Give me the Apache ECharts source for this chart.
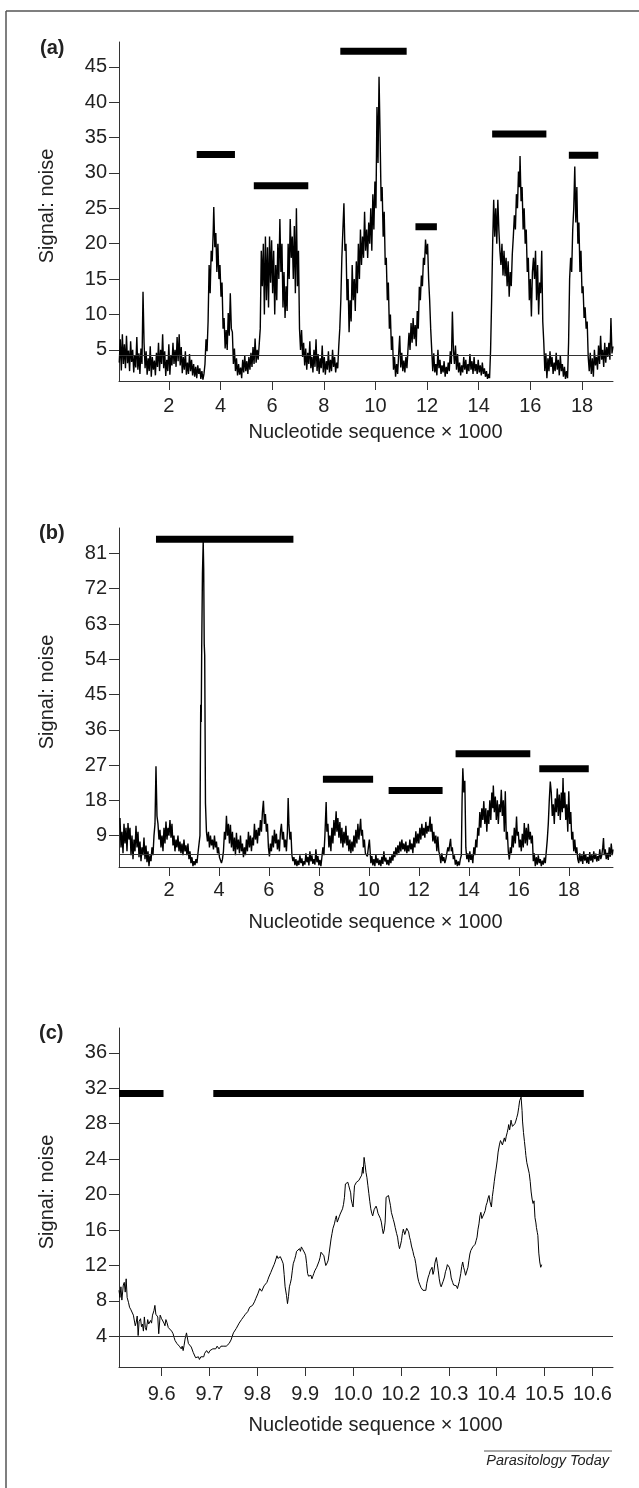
<!DOCTYPE html>
<html>
<head>
<meta charset="utf-8">
<script src="https://cdn.jsdelivr.net/npm/echarts@6.0.0/dist/echarts.min.js"></script>
<style>
  html, body { margin: 0; padding: 0; background: #fff; }
  #main { width: 639px; height: 1488px; }
</style>
</head>
<body>
<div id="main"></div>
<script>
// signal:noise traces, [position x 1000, signal:noise]
var traceA = [
  [0.08,3.2],[0.12,6.5],[0.16,2.1],[0.2,7.2],[0.24,3.0],[0.28,5.8],[0.32,2.4],[0.36,7.0],[0.4,3.1],[0.44,4.9],[0.48,2.0],[0.52,6.2],[0.56,3.3],[0.6,5.0],[0.64,1.8],[0.68,4.2],[0.72,2.5],[0.76,6.8],[0.8,2.2],[0.84,4.5],[0.88,1.6],[0.92,5.2],[0.96,3.0],[1.0,13.2],[1.04,6.0],[1.08,2.4],[1.12,4.8],[1.16,1.5],[1.2,3.8],[1.24,2.0],[1.28,5.5],[1.32,1.2],[1.36,4.0],[1.4,2.2],[1.44,3.5],[1.48,1.4],[1.52,4.6],[1.56,2.6],[1.6,6.0],[1.64,2.0],[1.68,5.0],[1.72,3.0],[1.76,7.2],[1.8,2.4],[1.84,4.8],[1.88,1.3],[1.92,3.6],[1.96,2.0],[2.0,5.8],[2.04,1.5],[2.08,4.2],[2.12,2.8],[2.16,6.0],[2.2,3.0],[2.24,5.0],[2.28,2.6],[2.32,6.8],[2.36,3.4],[2.4,7.2],[2.44,2.8],[2.48,5.4],[2.52,1.7],[2.56,4.0],[2.6,2.2],[2.64,4.8],[2.68,1.5],[2.72,3.2],[2.76,1.6],[2.8,4.4],[2.84,2.0],[2.88,3.6],[2.92,1.4],[2.96,3.0],[3.0,1.2],[3.04,2.6],[3.08,1.0],[3.12,2.8],[3.16,1.6],[3.2,2.4],[3.24,0.9],[3.28,2.0],[3.32,0.8],[3.36,1.6],
  [3.4,3.0],[3.44,6.5],[3.48,4.8],[3.52,9.0],[3.56,17.0],[3.6,13.0],[3.64,19.0],[3.68,17.5],[3.72,22.0],[3.74,25.2],[3.78,19.5],[3.82,21.5],[3.86,16.0],[3.9,20.0],[3.94,15.0],[3.98,17.0],[4.02,12.5],[4.06,14.5],[4.1,8.0],[4.14,9.5],[4.18,5.2],[4.22,7.8],[4.26,5.0],[4.3,10.2],[4.34,7.0],[4.38,13.0],[4.42,8.0],[4.46,7.5],[4.5,3.0],[4.54,5.2],[4.58,2.0],[4.62,3.8],[4.66,1.4],[4.7,3.0],[4.74,1.5],[4.78,2.5],[4.82,1.0],[4.86,3.6],[4.9,1.8],[4.94,4.2],[4.98,2.0],[5.02,3.4],[5.06,1.6],[5.1,4.0],[5.14,2.2],[5.18,4.6],[5.22,2.6],[5.26,5.4],[5.3,3.0],[5.34,6.6],[5.38,3.2],[5.42,5.0],[5.46,3.6],[5.5,5.8],
  [5.54,8.0],[5.58,19.0],[5.62,14.0],[5.66,20.0],[5.7,10.0],[5.74,21.0],[5.78,12.0],[5.82,19.5],[5.86,11.0],[5.9,21.0],[5.94,14.5],[5.98,20.5],[6.02,13.0],[6.06,19.0],[6.1,10.0],[6.14,17.0],[6.18,12.0],[6.22,20.0],[6.26,15.0],[6.3,23.5],[6.34,16.0],[6.38,20.0],[6.42,11.0],[6.46,16.0],[6.5,9.5],[6.54,14.0],[6.58,10.5],[6.62,20.0],[6.66,15.0],[6.7,23.5],[6.74,18.0],[6.78,21.0],[6.82,15.0],[6.86,22.5],[6.9,13.0],[6.94,25.0],[6.98,14.0],[7.02,19.0],[7.06,8.0],[7.1,5.0],
  [7.14,7.8],[7.18,4.0],[7.22,6.0],[7.26,2.8],[7.3,5.2],[7.34,2.2],[7.38,4.6],[7.42,3.0],[7.46,6.2],[7.5,2.4],[7.54,4.0],[7.58,1.8],[7.62,5.0],[7.66,2.6],[7.7,6.5],[7.74,2.0],[7.78,4.4],[7.82,1.6],[7.86,3.8],[7.9,2.4],[7.94,5.6],[7.98,1.8],[8.02,4.0],[8.06,1.5],[8.1,3.4],[8.14,2.2],[8.18,4.8],[8.22,1.8],[8.26,3.6],[8.3,2.0],[8.34,5.0],[8.38,2.6],[8.42,4.0],[8.46,1.8],[8.5,3.2],[8.54,2.4],[8.58,5.5],
  [8.62,8.0],[8.66,12.0],[8.7,18.0],[8.74,22.0],[8.78,25.7],[8.82,19.0],[8.86,20.0],[8.9,12.0],[8.94,15.0],[8.98,7.5],[9.02,12.0],[9.06,9.0],[9.1,17.0],[9.14,12.0],[9.18,15.0],[9.22,10.5],[9.26,17.5],[9.3,13.0],[9.34,20.0],[9.38,15.0],[9.42,22.0],[9.46,17.0],[9.5,21.0],[9.54,18.0],[9.58,24.5],[9.62,19.0],[9.66,22.0],[9.7,18.0],[9.74,23.0],[9.78,20.0],[9.82,25.0],[9.86,19.0],[9.9,27.0],[9.94,22.0],[9.98,28.8],[10.02,25.0],[10.06,39.3],[10.1,31.4],[10.14,43.6],[10.18,35.4],[10.22,26.0],[10.26,28.0],[10.3,21.0],[10.34,24.5],[10.38,17.0],[10.42,18.0],[10.46,12.0],[10.5,14.5],[10.54,8.0],[10.58,10.0],[10.62,5.0],[10.66,6.9],[10.7,2.2],[10.74,4.0],[10.78,1.2],
  [10.82,3.0],[10.86,1.6],[10.9,4.4],[10.94,7.0],[10.98,2.5],[11.02,4.6],[11.06,2.0],[11.1,3.5],[11.14,1.8],[11.18,4.0],[11.22,2.4],[11.26,5.0],
  [11.3,7.4],[11.34,5.0],[11.38,8.8],[11.42,6.0],[11.46,9.5],[11.5,6.5],[11.54,8.5],[11.58,5.5],[11.62,10.5],[11.66,8.0],[11.7,13.9],[11.74,12.0],[11.78,15.5],[11.82,14.0],[11.86,18.0],[11.9,17.0],[11.94,20.6],[11.98,18.5],[12.02,20.0],[12.06,15.0],[12.1,12.0],[12.14,8.0],[12.18,5.0],[12.22,2.0],
  [12.26,4.5],[12.3,1.8],[12.34,3.0],[12.38,1.4],[12.42,5.0],[12.46,2.4],[12.5,3.6],[12.54,1.6],[12.58,2.8],[12.62,1.8],[12.66,3.4],[12.7,1.2],[12.74,2.6],[12.78,1.6],[12.82,3.2],[12.86,2.0],[12.9,4.8],[12.94,3.0],[12.98,10.4],[13.02,5.0],[13.06,3.0],[13.1,5.6],[13.14,2.2],[13.18,4.4],[13.22,1.8],[13.26,3.2],[13.3,1.4],[13.34,2.8],[13.38,1.8],[13.42,4.0],[13.46,2.2],[13.5,3.6],[13.54,1.6],[13.58,3.0],[13.62,2.0],[13.66,4.4],[13.7,2.2],[13.74,3.4],[13.78,1.6],[13.82,4.0],[13.86,2.0],[13.9,3.0],[13.94,1.6],[13.98,3.6],[14.02,1.8],[14.06,2.8],[14.1,1.4],[14.14,3.2],[14.18,1.6],[14.22,2.4],[14.26,1.2],[14.3,2.0],[14.34,0.9],[14.38,1.6],[14.42,1.0],
  [14.46,5.0],[14.5,12.0],[14.54,20.0],[14.58,26.2],[14.62,21.0],[14.66,25.0],[14.7,20.0],[14.74,26.2],[14.78,22.0],[14.82,19.0],[14.86,17.0],[14.9,20.0],[14.94,15.5],[14.98,19.0],[15.02,15.4],[15.06,18.0],[15.1,14.0],[15.14,17.5],[15.18,12.5],[15.22,16.0],[15.26,14.0],[15.3,18.5],[15.34,21.0],[15.38,24.0],[15.42,22.0],[15.46,27.0],[15.5,25.0],[15.54,30.2],[15.58,28.0],[15.6,32.4],[15.64,26.0],[15.68,28.0],[15.72,22.0],[15.76,25.0],[15.8,20.0],[15.84,22.0],[15.88,16.0],[15.92,18.0],[15.96,12.0],[16.0,15.0],[16.04,9.7],[16.08,16.0],[16.12,18.0],[16.16,15.0],[16.2,19.0],[16.24,12.0],[16.28,17.0],[16.32,10.0],[16.36,14.5],[16.4,13.0],[16.44,19.0],[16.48,9.0],[16.52,6.0],[16.56,2.0],
  [16.6,4.5],[16.64,1.0],[16.68,3.8],[16.72,2.0],[16.76,4.8],[16.8,2.6],[16.84,4.0],[16.88,1.6],[16.92,3.2],[16.96,2.0],[17.0,4.6],[17.04,2.2],[17.08,3.6],[17.12,1.4],[17.16,4.2],[17.2,2.0],[17.24,3.0],[17.28,1.2],[17.32,2.6],[17.36,0.9],[17.4,2.0],[17.44,1.0],
  [17.48,6.0],[17.52,15.0],[17.56,18.0],[17.6,16.0],[17.64,22.0],[17.68,25.0],[17.72,30.9],[17.76,23.0],[17.8,28.0],[17.84,20.0],[17.88,23.0],[17.92,16.0],[17.96,19.0],[18.0,13.0],[18.04,14.0],[18.08,9.5],[18.12,11.0],[18.16,8.0],[18.2,9.0],[18.24,4.0],[18.28,2.0],
  [18.32,4.6],[18.36,1.6],[18.4,3.8],[18.44,1.2],[18.48,5.0],[18.52,2.8],[18.56,4.0],[18.6,2.2],[18.64,5.6],[18.68,3.0],[18.72,7.0],[18.76,3.6],[18.8,5.0],[18.84,2.6],[18.88,6.0],[18.92,3.2],[18.96,5.4],[19.0,4.0],[19.04,6.0],[19.08,3.6],[19.12,9.5],[19.16,4.5],[19.2,5.5]
];

var traceB = [
  [0.04,13.5],[0.08,6.0],[0.12,10.0],[0.16,4.5],[0.2,12.0],[0.24,7.0],[0.28,11.0],[0.32,5.0],[0.36,12.2],[0.4,8.0],[0.44,11.0],[0.48,4.0],[0.52,9.0],[0.56,3.0],[0.6,8.0],[0.64,5.0],[0.68,11.5],[0.72,6.0],[0.76,10.0],[0.8,3.5],[0.84,7.5],[0.88,2.5],[0.92,6.0],[0.96,4.0],[1.0,8.5],[1.04,3.0],[1.08,6.5],[1.12,2.2],[1.16,5.0],[1.2,1.2],[1.24,4.0],[1.28,2.5],[1.32,6.0],[1.36,4.0],[1.4,9.0],[1.44,12.0],[1.48,26.7],[1.52,14.0],[1.56,12.0],[1.6,8.0],[1.64,10.5],[1.68,6.0],[1.72,9.0],[1.76,5.0],[1.8,11.0],[1.84,7.0],[1.88,12.6],[1.92,8.0],[1.96,11.0],[2.0,9.0],[2.04,13.0],[2.08,8.5],[2.12,12.0],[2.16,6.5],[2.2,9.0],[2.24,5.0],[2.28,8.0],[2.32,6.0],[2.36,9.0],[2.4,5.0],[2.44,7.5],[2.48,4.5],[2.52,7.0],[2.56,4.0],[2.6,8.0],[2.64,5.0],[2.68,6.5],[2.72,4.0],[2.76,7.0],[2.8,3.0],[2.84,5.0],[2.88,2.0],[2.92,3.5],[2.96,1.2],[3.0,2.5],[3.04,1.5],[3.08,3.0],[3.12,2.0],[3.16,4.5],[3.2,5.0],[3.24,9.0],[3.27,42.4],[3.29,38.0],[3.31,57.0],[3.34,76.0],[3.37,84.0],[3.39,77.0],[3.41,58.0],[3.43,55.0],[3.46,17.3],[3.5,10.0],[3.54,7.5],[3.58,10.0],[3.62,6.0],[3.66,9.0],[3.7,6.5],[3.74,8.0],[3.78,5.5],[3.82,9.0],[3.86,6.0],[3.9,7.5],[3.94,4.5],[3.98,6.0],[4.02,3.5],[4.06,4.0],[4.1,2.0],[4.14,3.0],[4.18,5.0],[4.22,10.0],[4.26,8.0],[4.3,14.1],[4.34,9.0],[4.38,12.0],[4.42,7.0],[4.46,11.8],[4.5,6.0],[4.54,10.0],[4.58,5.0],[4.62,8.5],[4.66,4.0],[4.7,9.7],[4.74,5.5],[4.78,8.0],[4.82,4.5],[4.86,9.0],[4.9,5.0],[4.94,7.0],[4.98,3.5],[5.02,6.0],[5.06,4.0],[5.1,8.0],[5.14,5.0],[5.18,10.0],[5.22,6.0],[5.26,9.0],[5.3,5.0],[5.34,8.5],[5.38,6.5],[5.42,12.0],[5.46,8.0],[5.5,10.5],[5.54,7.0],[5.58,11.0],[5.62,9.0],[5.66,13.0],[5.7,10.0],[5.74,15.0],[5.78,17.9],[5.82,12.0],[5.86,14.5],[5.9,10.0],[5.94,12.0],[5.98,6.0],[6.02,3.7],[6.06,7.0],[6.1,5.0],[6.14,9.0],[6.18,6.0],[6.22,10.5],[6.26,7.0],[6.3,9.5],[6.34,5.5],[6.38,8.0],[6.42,5.0],[6.46,10.0],[6.5,12.0],[6.54,8.0],[6.58,10.0],[6.62,6.0],[6.66,8.0],[6.7,5.0],[6.74,10.0],[6.77,18.6],[6.8,12.0],[6.84,8.0],[6.88,10.0],[6.92,4.0],[6.96,2.5],
  [7.0,3.5],[7.04,1.5],[7.08,3.0],[7.12,1.2],[7.16,2.6],[7.2,1.5],[7.24,4.0],[7.28,2.0],[7.32,3.2],[7.36,1.2],[7.4,2.5],[7.44,1.6],[7.48,4.5],[7.52,2.2],[7.56,3.6],[7.6,1.4],[7.64,5.0],[7.68,2.4],[7.72,4.0],[7.76,1.8],[7.8,3.0],[7.84,1.6],[7.88,5.5],[7.92,2.2],[7.96,3.8],[8.0,1.4],[8.04,2.8],[8.08,1.2],[8.12,3.5],[8.16,6.0],[8.2,4.0],[8.24,9.0],[8.29,17.6],[8.32,10.0],[8.36,12.0],[8.4,6.0],[8.44,9.0],[8.48,5.0],[8.52,11.0],[8.56,7.0],[8.6,13.0],[8.64,9.0],[8.69,15.2],[8.72,10.0],[8.76,13.5],[8.8,8.5],[8.84,12.5],[8.88,7.0],[8.92,11.0],[8.96,6.0],[9.0,10.0],[9.04,7.0],[9.08,11.5],[9.12,6.5],[9.16,9.0],[9.2,5.0],[9.24,8.0],[9.28,4.5],[9.32,7.5],[9.36,5.0],[9.4,9.0],[9.44,6.0],[9.48,10.5],[9.52,7.0],[9.56,12.0],[9.6,8.0],[9.64,11.0],[9.67,13.3],[9.7,9.0],[9.74,10.5],[9.78,6.0],[9.82,8.0],[9.86,4.5],[9.9,5.0],[9.94,3.7],[9.98,6.0],[10.02,8.0],[10.06,4.0],[10.08,2.0],
  [10.12,3.8],[10.16,1.4],[10.2,3.0],[10.24,1.2],[10.28,4.2],[10.32,2.0],[10.36,3.2],[10.4,1.5],[10.44,2.8],[10.48,1.2],[10.52,3.6],[10.56,1.8],[10.6,5.0],[10.64,2.4],[10.68,3.4],[10.72,1.6],[10.76,2.8],[10.8,1.4],[10.84,3.6],[10.88,2.0],[10.92,4.0],[10.96,2.6],
  [11.0,5.0],[11.04,3.5],[11.08,6.0],[11.12,4.0],[11.16,6.5],[11.2,4.5],[11.24,7.5],[11.28,5.0],[11.32,8.0],[11.36,5.5],[11.4,7.0],[11.44,5.0],[11.48,7.5],[11.52,4.5],[11.56,6.5],[11.6,5.0],[11.64,8.0],[11.68,5.5],[11.72,7.0],[11.76,4.5],[11.8,8.5],[11.84,6.0],[11.88,10.1],[11.92,7.0],[11.96,9.5],[12.0,7.0],[12.04,11.0],[12.08,8.0],[12.12,12.0],[12.16,9.0],[12.2,11.0],[12.24,8.5],[12.28,12.5],[12.32,9.5],[12.36,11.5],[12.4,10.0],[12.45,13.9],[12.48,10.0],[12.52,12.0],[12.56,7.5],[12.6,10.0],[12.64,7.0],[12.68,9.0],[12.72,5.0],[12.76,8.8],[12.8,5.0],[12.84,4.0],[12.88,2.0],[12.92,4.5],[12.96,2.5],[13.0,3.5],[13.04,2.0],[13.08,3.0],[13.12,4.5],[13.16,6.0],[13.2,5.0],[13.24,7.0],[13.27,8.2],[13.3,5.0],[13.34,6.0],[13.38,3.0],[13.42,4.0],[13.46,1.6],[13.5,2.8],[13.54,1.2],[13.58,2.4],[13.62,1.4],[13.66,3.0],[13.7,4.0],[13.73,18.0],[13.76,26.2],[13.8,20.0],[13.84,23.0],[13.88,6.0],[13.92,3.0],[13.96,4.5],[14.0,2.2],[14.04,5.0],[14.08,2.8],[14.12,4.0],[14.16,2.0],[14.2,6.0],[14.24,4.0],[14.28,8.0],[14.32,6.0],[14.36,11.0],[14.4,9.0],[14.44,15.0],[14.48,11.0],[14.52,16.0],[14.56,13.0],[14.6,17.8],[14.64,12.0],[14.68,16.0],[14.72,10.0],[14.76,15.5],[14.8,12.0],[14.84,18.0],[14.88,13.0],[14.92,20.0],[14.96,16.0],[14.98,21.8],[15.02,15.0],[15.06,19.0],[15.1,13.0],[15.14,18.0],[15.18,12.0],[15.22,17.0],[15.26,15.0],[15.3,20.7],[15.34,14.0],[15.38,18.0],[15.42,10.0],[15.46,20.3],[15.5,8.0],[15.54,10.0],[15.58,5.0],[15.62,2.9],[15.66,6.0],[15.7,4.5],[15.74,9.0],[15.78,6.0],[15.82,11.0],[15.86,7.0],[15.91,13.9],[15.94,9.0],[15.98,10.0],[16.02,6.0],[16.06,8.0],[16.1,5.0],[16.14,9.5],[16.18,6.0],[16.22,12.2],[16.26,7.0],[16.3,11.0],[16.34,6.5],[16.38,12.0],[16.42,8.0],[16.46,10.0],[16.5,7.0],[16.54,9.0],[16.58,2.5],
  [16.62,4.5],[16.66,1.2],[16.7,3.5],[16.74,1.6],[16.78,4.0],[16.82,2.0],[16.86,3.0],[16.9,1.2],[16.94,2.6],[16.98,1.6],[17.02,3.4],[17.06,2.0],[17.1,5.0],
  [17.14,8.0],[17.18,12.0],[17.22,18.0],[17.26,22.8],[17.3,20.0],[17.34,14.0],[17.38,17.0],[17.42,12.0],[17.46,18.5],[17.5,15.0],[17.54,21.0],[17.58,14.0],[17.62,19.5],[17.66,13.0],[17.7,20.0],[17.74,15.0],[17.77,23.7],[17.8,16.0],[17.84,20.0],[17.88,13.0],[17.92,17.0],[17.96,10.0],[18.0,20.3],[18.04,12.0],[18.08,15.0],[18.12,8.0],[18.16,10.0],[18.2,5.0],[18.24,8.0],[18.28,4.5],[18.32,6.0],[18.36,3.0],[18.4,2.0],
  [18.44,4.5],[18.48,2.4],[18.52,4.0],[18.56,1.8],[18.6,5.0],[18.64,2.6],[18.68,4.2],[18.72,2.0],[18.76,3.6],[18.8,1.8],[18.84,4.8],[18.88,2.6],[18.92,4.0],[18.96,2.2],[19.0,5.0],[19.04,3.0],[19.08,4.4],[19.12,2.4],[19.16,3.8],[19.2,2.6],[19.24,5.5],[19.28,3.0],[19.32,4.0],[19.36,6.0],[19.39,8.4],[19.42,4.0],[19.46,5.5],[19.5,3.0],[19.54,4.6],[19.58,2.8],[19.62,6.0],[19.66,3.6],[19.7,7.0],[19.74,4.0],[19.77,5.5]
];

// panel (c): x is the tick position (ticks evenly spaced, labelled as printed)
var traceC = [
  [9.511,9.2],[9.513,8.4],[9.515,9.6],[9.517,8.1],[9.520,9.8],[9.522,10.1],[9.524,9.0],[9.526,10.5],[9.528,8.4],[9.531,7.8],[9.533,7.3],[9.536,7.0],[9.539,6.9],[9.541,6.4],[9.543,6.2],[9.545,5.2],[9.547,5.6],[9.549,6.3],[9.551,4.1],[9.553,5.7],[9.556,6.0],[9.558,5.1],[9.560,5.4],[9.562,4.6],[9.564,6.2],[9.566,5.0],[9.568,4.7],[9.571,5.9],[9.573,5.4],[9.575,5.3],[9.577,5.8],[9.579,5.5],[9.581,6.4],[9.584,6.9],[9.586,7.5],[9.588,6.5],[9.590,6.7],[9.592,6.2],[9.594,4.3],[9.597,6.4],[9.600,6.0],[9.603,5.8],[9.605,5.5],[9.607,5.2],[9.609,5.9],[9.611,5.6],[9.614,5.0],[9.618,5.1],[9.621,4.6],[9.624,4.3],[9.626,3.9],[9.628,3.55],[9.630,3.7],[9.632,3.2],[9.635,3.3],[9.637,2.9],[9.639,3.0],[9.641,2.6],[9.643,2.9],[9.645,2.4],[9.647,3.0],[9.649,3.7],[9.652,4.4],[9.654,4.3],[9.656,3.2],[9.659,3.1],[9.662,2.8],[9.664,2.6],[9.666,2.2],[9.669,2.0],[9.671,1.6],[9.673,1.8],[9.675,1.5],[9.677,1.7],[9.679,1.4],[9.682,1.7],[9.684,1.5],[9.686,1.9],[9.688,1.7],[9.690,2.1],[9.692,2.0],[9.694,2.4],[9.696,2.2],[9.698,2.1],[9.701,2.4],[9.703,2.5],[9.705,2.2],[9.707,2.6],[9.709,2.6],[9.711,2.4],[9.713,2.6],[9.716,2.9],[9.718,2.7],[9.720,2.6],[9.722,2.8],[9.724,2.9],[9.726,2.8],[9.728,2.7],[9.730,2.9],[9.735,2.9],[9.739,3.0],[9.741,3.2],[9.743,3.2],[9.745,3.6],[9.747,3.7],[9.750,4.4],[9.752,4.5],[9.754,4.6],[9.756,4.9],[9.758,4.8],[9.760,5.1],[9.762,5.5],[9.764,5.6],[9.767,5.9],[9.769,6.0],[9.771,6.2],[9.773,6.4],[9.775,6.5],[9.777,6.6],[9.780,6.8],[9.782,6.9],[9.784,7.3],[9.786,7.5],[9.788,7.3],[9.790,7.5],[9.792,7.7],[9.794,7.9],[9.797,8.3],[9.799,8.4],[9.801,8.8],[9.803,9.0],[9.805,9.4],[9.807,9.6],[9.809,9.1],[9.811,9.2],[9.814,9.7],[9.816,9.7],[9.818,9.9],[9.820,10.1],[9.822,10.4],[9.824,10.7],[9.826,10.9],[9.828,11.2],[9.831,11.6],[9.833,11.8],[9.835,12.1],[9.837,12.4],[9.839,12.6],[9.841,13.1],[9.843,12.8],[9.845,12.7],[9.848,13.0],[9.850,12.9],[9.852,12.5],[9.854,12.2],[9.856,11.0],[9.858,9.6],[9.861,8.6],[9.863,7.7],[9.865,8.5],[9.867,9.6],[9.869,10.0],[9.871,10.5],[9.873,11.4],[9.875,12.2],[9.878,12.7],[9.880,13.1],[9.882,13.6],[9.884,13.5],[9.886,13.7],[9.888,13.9],[9.890,13.6],[9.892,14.1],[9.895,13.8],[9.897,13.7],[9.899,13.4],[9.901,13.1],[9.903,12.2],[9.905,11.1],[9.907,10.8],[9.909,10.7],[9.912,10.9],[9.914,10.5],[9.916,10.8],[9.918,11.1],[9.920,11.4],[9.922,11.6],[9.924,11.8],[9.926,12.0],[9.929,12.5],[9.931,12.9],[9.933,13.5],[9.935,13.7],[9.937,13.4],[9.939,13.1],[9.941,12.5],[9.943,12.0],[9.946,12.3],[9.948,12.6],[9.950,13.4],[9.952,14.2],[9.954,15.0],[9.956,15.6],[9.958,16.2],[9.961,16.7],[9.963,17.2],[9.965,17.6],[9.967,16.9],[9.969,17.1],[9.971,17.5],[9.973,17.8],[9.976,18.0],[9.978,18.4],[9.980,18.9],[9.982,19.7],[9.984,21.2],[9.987,21.3],[9.989,21.4],[9.991,21.0],[9.993,21.2],[9.995,20.2],[9.996,19.5],[9.998,19.0],[10.000,18.6],[10.002,20.2],[10.003,21.0],[10.005,20.8],[10.007,21.4],[10.010,21.2],[10.012,21.6],[10.014,21.5],[10.016,21.7],[10.018,22.2],[10.020,23.1],[10.021,22.4],[10.023,24.2],[10.025,23.4],[10.027,22.5],[10.029,21.9],[10.031,21.0],[10.033,20.1],[10.035,19.2],[10.037,18.4],[10.039,17.9],[10.041,17.6],[10.044,18.3],[10.046,18.2],[10.048,18.7],[10.050,18.4],[10.052,17.9],[10.054,17.8],[10.057,17.3],[10.059,16.9],[10.061,16.2],[10.063,15.6],[10.065,16.0],[10.067,16.9],[10.069,19.7],[10.071,19.5],[10.074,19.9],[10.076,19.7],[10.078,18.8],[10.080,18.0],[10.082,17.8],[10.084,17.2],[10.086,16.8],[10.088,16.3],[10.091,15.6],[10.093,15.2],[10.095,14.4],[10.097,13.9],[10.099,14.3],[10.101,14.8],[10.103,15.6],[10.105,16.1],[10.108,15.5],[10.110,15.7],[10.112,16.2],[10.114,16.3],[10.116,15.8],[10.118,15.2],[10.120,14.8],[10.122,14.2],[10.125,13.6],[10.127,13.1],[10.129,12.8],[10.131,12.2],[10.133,11.4],[10.135,10.7],[10.137,10.2],[10.139,9.9],[10.142,9.5],[10.144,9.6],[10.146,9.2],[10.148,9.4],[10.150,9.0],[10.152,9.2],[10.154,10.0],[10.157,10.7],[10.159,11.0],[10.161,11.4],[10.163,11.2],[10.165,11.8],[10.167,11.0],[10.169,11.4],[10.171,12.3],[10.174,12.9],[10.176,12.2],[10.178,11.4],[10.180,10.5],[10.182,9.9],[10.184,9.6],[10.186,9.7],[10.188,10.2],[10.191,10.7],[10.193,11.3],[10.195,11.6],[10.197,12.1],[10.199,12.2],[10.201,11.8],[10.203,11.4],[10.205,10.6],[10.208,10.1],[10.210,9.8],[10.212,9.6],[10.214,9.9],[10.216,9.7],[10.218,9.4],[10.220,9.6],[10.222,10.2],[10.225,11.1],[10.227,11.9],[10.229,12.4],[10.231,11.8],[10.233,11.4],[10.235,10.9],[10.238,11.1],[10.240,11.8],[10.242,12.6],[10.244,13.3],[10.246,13.7],[10.248,13.6],[10.250,14.1],[10.252,14.0],[10.255,14.4],[10.257,14.8],[10.259,15.2],[10.261,16.1],[10.263,16.7],[10.265,17.6],[10.267,18.0],[10.269,17.3],[10.272,17.4],[10.274,17.9],[10.276,18.2],[10.278,18.8],[10.280,19.1],[10.282,19.6],[10.284,19.9],[10.286,19.2],[10.289,18.6],[10.291,19.8],[10.293,20.6],[10.295,21.5],[10.297,22.3],[10.299,23.0],[10.301,23.8],[10.303,24.8],[10.306,25.7],[10.308,26.1],[10.310,26.3],[10.312,25.6],[10.314,25.8],[10.316,26.4],[10.318,26.0],[10.320,26.6],[10.322,27.0],[10.324,27.5],[10.325,27.9],[10.327,27.3],[10.328,27.6],[10.330,28.4],[10.331,28.1],[10.333,27.7],[10.336,27.5],[10.338,28.0],[10.340,28.3],[10.342,28.7],[10.344,29.1],[10.346,29.8],[10.348,30.6],[10.350,30.4],[10.351,31.0],[10.353,29.5],[10.354,28.3],[10.356,27.0],[10.358,26.0],[10.360,25.0],[10.361,24.4],[10.363,23.6],[10.365,23.4],[10.368,22.4],[10.370,21.5],[10.372,20.3],[10.374,19.5],[10.376,19.0],[10.378,19.3],[10.380,17.4],[10.382,16.8],[10.383,16.3],[10.385,15.7],[10.386,15.4],[10.388,13.4],[10.390,12.4],[10.392,11.8],[10.394,12.1]
];

// horizontal bars above the peaks: [from, to, level]
var barsA = [[3.08,4.56,32.6],[5.29,7.40,28.2],[8.64,11.21,47.2],[11.55,12.38,22.4],[14.52,16.62,35.5],[17.49,18.63,32.5]];
var barsB = [[1.48,6.98,84.6],[8.16,10.17,23.4],[10.79,12.95,20.5],[13.47,16.46,29.9],[16.82,18.80,26.1]];
var barsC = [[9.511,9.604,31.4],[9.708,10.482,31.4]];

// threshold lines
var thresholdA = 4.3;
var thresholdB = 4.2;
var thresholdC = 4;

// ticks
var xTicksAB = [2, 4, 6, 8, 10, 12, 14, 16, 18];
var yTicksA = [5, 10, 15, 20, 25, 30, 35, 40, 45];
var yTicksB = [9, 18, 27, 36, 45, 54, 63, 72, 81];
var yTicksC = [4, 8, 12, 16, 20, 24, 28, 32, 36];
var xTicksC = [9.6, 9.7, 9.8, 9.9, 10.0, 10.1, 10.2, 10.3, 10.4, 10.5];
var xLabelsC = ['9.6', '9.7', '9.8', '9.9', '10.0', '10.2', '10.3', '10.4', '10.5', '10.6'];

var FONT = '"Liberation Sans", Arial, Helvetica, sans-serif';
var INK = '#222';
var AXIS = '#333';

var myChart = echarts.init(document.getElementById('main'), null, { renderer: 'canvas' });

function xAxisOf(idx, min, max, ticks, labelMargin, nameGap, formatter) {
  return {
    type: 'value', gridIndex: idx, min: min, max: max,
    axisLine: { onZero: false, lineStyle: { color: AXIS, width: 1 } },
    axisTick: { length: 9, customValues: ticks, lineStyle: { color: AXIS } },
    axisLabel: { customValues: ticks, margin: labelMargin, fontSize: 20, fontFamily: FONT, color: INK, formatter: formatter },
    splitLine: { show: false },
    name: 'Nucleotide sequence \u00d7 1000',
    nameLocation: 'middle', nameGap: nameGap,
    nameTextStyle: { fontSize: 20, fontFamily: FONT, color: INK, padding: [0, 0, 0, 19] }
  };
}

function yAxisOf(idx, min, max, ticks) {
  return {
    type: 'value', gridIndex: idx, min: min, max: max,
    axisLine: { show: true, onZero: false, lineStyle: { color: AXIS, width: 1 } },
    axisTick: { show: true, length: 10, customValues: ticks, lineStyle: { color: AXIS } },
    axisLabel: { customValues: ticks, margin: 12, fontSize: 20, fontFamily: FONT, color: INK },
    splitLine: { show: false },
    name: 'Signal: noise',
    nameLocation: 'middle', nameGap: 62,
    nameTextStyle: { fontSize: 20, fontFamily: FONT, color: INK, padding: [0, 0, 0, 11] }
  };
}

function traceSeries(idx, data, threshold, width) {
  return {
    type: 'line', xAxisIndex: idx, yAxisIndex: idx, data: data,
    showSymbol: false, symbol: 'none', silent: true, z: 3,
    lineStyle: { color: '#000', width: width },
    markLine: {
      silent: true, symbol: ['none', 'none'], label: { show: false },
      lineStyle: { color: AXIS, width: 1, type: 'solid' },
      data: [{ yAxis: threshold }]
    }
  };
}

function barSeries(idx, bars) {
  return bars.map(function (b) {
    return {
      type: 'line', xAxisIndex: idx, yAxisIndex: idx,
      data: [[b[0], b[2]], [b[1], b[2]]],
      showSymbol: false, symbol: 'none', silent: true, z: 4,
      lineStyle: { color: '#000', width: 7, cap: 'butt' }
    };
  });
}

var series = [].concat(
  [traceSeries(0, traceA, thresholdA, 1.4)], barSeries(0, barsA),
  [traceSeries(1, traceB, thresholdB, 1.4)], barSeries(1, barsB),
  [traceSeries(2, traceC, thresholdC, 1)], barSeries(2, barsC)
);

myChart.setOption({
  animation: false,
  backgroundColor: '#fff',
  grid: [
    { left: 119, top: 42, width: 494, height: 339 },
    { left: 119, top: 528, width: 494, height: 339 },
    { left: 119, top: 1028, width: 494, height: 339 }
  ],
  xAxis: [
    xAxisOf(0, 0.07, 19.2, xTicksAB, 15, 41),
    xAxisOf(1, 0, 19.77, xTicksAB, 13, 45),
    xAxisOf(2, 9.511, 10.543, xTicksC, 17, 48, function (v) {
      for (var i = 0; i < xTicksC.length; i++) {
        if (Math.abs(xTicksC[i] - v) < 1e-6) return xLabelsC[i];
      }
      return '';
    })
  ],
  yAxis: [
    yAxisOf(0, 0.6, 48.5, yTicksA),
    yAxisOf(1, 1, 87.5, yTicksB),
    yAxisOf(2, 0.55, 38.8, yTicksC)
  ],
  series: series,
  graphic: [
    // figure frame (top and left edges only)
    { type: 'line', shape: { x1: 6, y1: 11, x2: 639, y2: 11 }, style: { stroke: '#555', lineWidth: 1.5 } },
    { type: 'line', shape: { x1: 6, y1: 11, x2: 6, y2: 1488 }, style: { stroke: '#555', lineWidth: 1.5 } },
    // panel letters
    { type: 'text', left: 40, top: 38, style: { text: '(a)', font: 'bold 20px ' + FONT, fill: INK } },
    { type: 'text', left: 39, top: 523, style: { text: '(b)', font: 'bold 20px ' + FONT, fill: INK } },
    { type: 'text', left: 39, top: 1023, style: { text: '(c)', font: 'bold 20px ' + FONT, fill: INK } },
    // source credit
    { type: 'line', shape: { x1: 484, y1: 1451, x2: 612, y2: 1451 }, style: { stroke: '#555', lineWidth: 1 } },
    { type: 'text', right: 30, top: 1453, style: { text: 'Parasitology Today', font: 'italic 14.5px ' + FONT, fill: INK } }
  ]
});
</script>
</body>
</html>
